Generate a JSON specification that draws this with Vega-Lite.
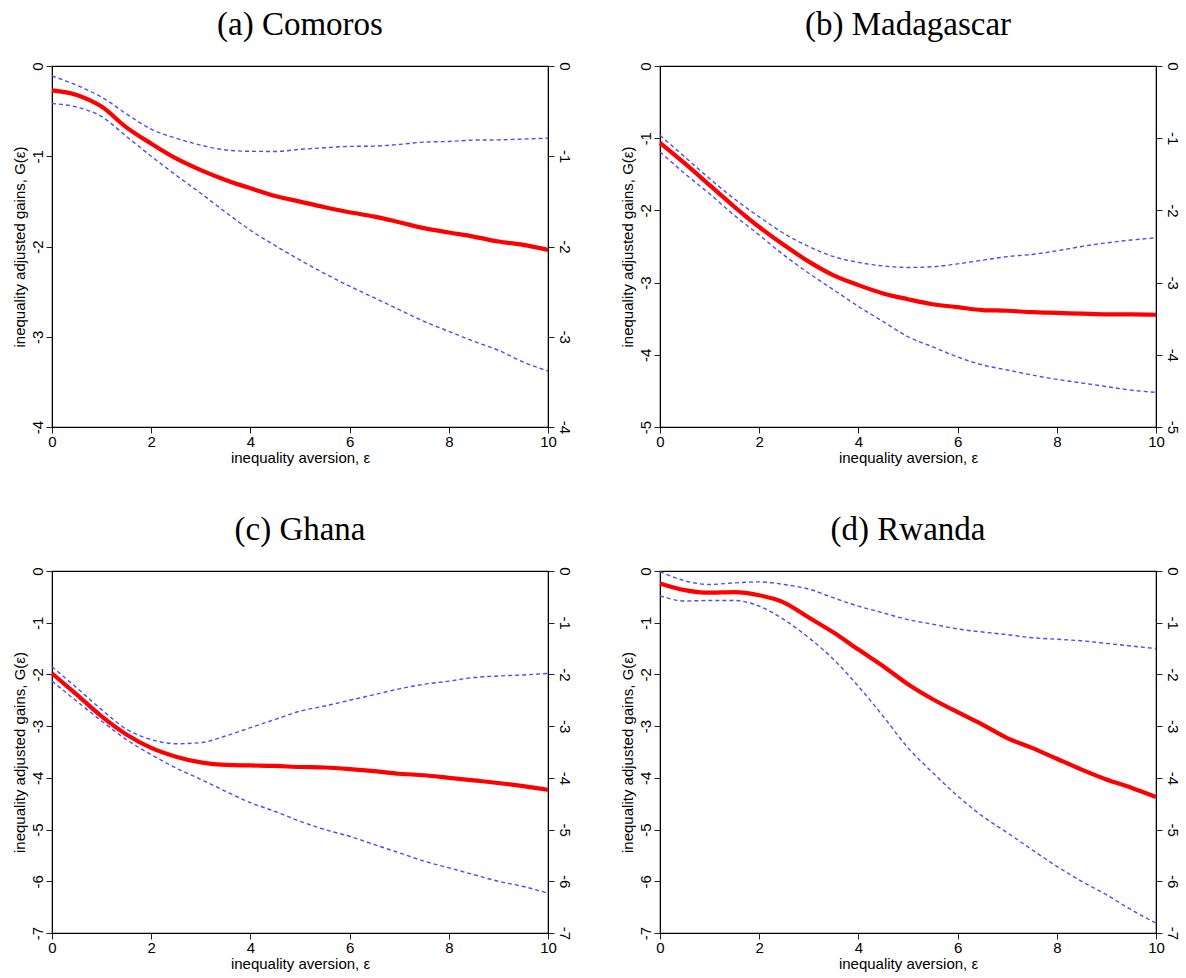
{
  "$schema": "https://vega.github.io/schema/vega-lite/v6.json",
  "padding": {"left": 11, "top": 8, "right": 5, "bottom": 0},
  "config": {
    "view": {"stroke": "black", "strokeWidth": 1.2},
    "axis": {"labelFont": "Liberation Sans", "titleFont": "Liberation Sans", "labelFontSize": 15, "titleFontSize": 15, "titleFontWeight": "normal", "labelColor": "black", "titleColor": "black", "domainColor": "black", "tickColor": "#222", "grid": false, "tickSize": 6, "labelExpr": "replace(datum.label, '\u2212', '-')"},
    "axisX": {"labelPadding": 1, "titlePadding": 1},
    "title": {"font": "Liberation Serif", "fontSize": 33, "fontWeight": "normal", "color": "black", "offset": 20},
    "line": {"interpolate": "monotone"}
  },
  "datasets": {
    "d": [
      {"p":"a","e":0,"est":-0.27,"lo":-0.416,"hi":-0.11},
      {"p":"a","e":0.5,"est":-0.32,"lo":-0.455,"hi":-0.214},
      {"p":"a","e":1,"est":-0.45,"lo":-0.56,"hi":-0.345},
      {"p":"a","e":1.5,"est":-0.68,"lo":-0.78,"hi":-0.53},
      {"p":"a","e":2,"est":-0.86,"lo":-1.0,"hi":-0.7},
      {"p":"a","e":2.5,"est":-1.024,"lo":-1.21,"hi":-0.8},
      {"p":"a","e":3,"est":-1.153,"lo":-1.41,"hi":-0.877},
      {"p":"a","e":3.5,"est":-1.263,"lo":-1.62,"hi":-0.93},
      {"p":"a","e":4,"est":-1.355,"lo":-1.82,"hi":-0.945},
      {"p":"a","e":4.5,"est":-1.44,"lo":-1.99,"hi":-0.947},
      {"p":"a","e":5,"est":-1.503,"lo":-2.15,"hi":-0.924},
      {"p":"a","e":5.5,"est":-1.565,"lo":-2.30,"hi":-0.906},
      {"p":"a","e":6,"est":-1.621,"lo":-2.44,"hi":-0.891},
      {"p":"a","e":6.5,"est":-1.669,"lo":-2.57,"hi":-0.888},
      {"p":"a","e":7,"est":-1.731,"lo":-2.70,"hi":-0.869},
      {"p":"a","e":7.5,"est":-1.797,"lo":-2.83,"hi":-0.843},
      {"p":"a","e":8,"est":-1.845,"lo":-2.94,"hi":-0.836},
      {"p":"a","e":8.5,"est":-1.89,"lo":-3.05,"hi":-0.821},
      {"p":"a","e":9,"est":-1.945,"lo":-3.15,"hi":-0.818},
      {"p":"a","e":9.5,"est":-1.982,"lo":-3.28,"hi":-0.81},
      {"p":"a","e":10,"est":-2.037,"lo":-3.38,"hi":-0.799},

      {"p":"b","e":0,"est":-1.065,"lo":-1.19,"hi":-0.96},
      {"p":"b","e":0.5,"est":-1.35,"lo":-1.49,"hi":-1.26},
      {"p":"b","e":1,"est":-1.65,"lo":-1.77,"hi":-1.56},
      {"p":"b","e":1.5,"est":-1.95,"lo":-2.07,"hi":-1.84},
      {"p":"b","e":2,"est":-2.23,"lo":-2.34,"hi":-2.09},
      {"p":"b","e":2.5,"est":-2.48,"lo":-2.62,"hi":-2.32},
      {"p":"b","e":3,"est":-2.71,"lo":-2.87,"hi":-2.5},
      {"p":"b","e":3.5,"est":-2.9,"lo":-3.1,"hi":-2.64},
      {"p":"b","e":4,"est":-3.035,"lo":-3.33,"hi":-2.72},
      {"p":"b","e":4.5,"est":-3.15,"lo":-3.54,"hi":-2.77},
      {"p":"b","e":5,"est":-3.23,"lo":-3.75,"hi":-2.79},
      {"p":"b","e":5.5,"est":-3.3,"lo":-3.89,"hi":-2.78},
      {"p":"b","e":6,"est":-3.34,"lo":-4.03,"hi":-2.74},
      {"p":"b","e":6.5,"est":-3.38,"lo":-4.14,"hi":-2.69},
      {"p":"b","e":7,"est":-3.39,"lo":-4.21,"hi":-2.64},
      {"p":"b","e":7.5,"est":-3.41,"lo":-4.28,"hi":-2.61},
      {"p":"b","e":8,"est":-3.42,"lo":-4.34,"hi":-2.56},
      {"p":"b","e":8.5,"est":-3.43,"lo":-4.39,"hi":-2.5},
      {"p":"b","e":9,"est":-3.44,"lo":-4.44,"hi":-2.45},
      {"p":"b","e":9.5,"est":-3.44,"lo":-4.49,"hi":-2.41},
      {"p":"b","e":10,"est":-3.445,"lo":-4.52,"hi":-2.38},

      {"p":"c","e":0,"est":-1.98,"lo":-2.13,"hi":-1.85},
      {"p":"c","e":0.5,"est":-2.39,"lo":-2.52,"hi":-2.26},
      {"p":"c","e":1,"est":-2.81,"lo":-2.9,"hi":-2.68},
      {"p":"c","e":1.5,"est":-3.16,"lo":-3.26,"hi":-3.06},
      {"p":"c","e":2,"est":-3.42,"lo":-3.55,"hi":-3.26},
      {"p":"c","e":2.5,"est":-3.59,"lo":-3.81,"hi":-3.34},
      {"p":"c","e":3,"est":-3.7,"lo":-4.03,"hi":-3.32},
      {"p":"c","e":3.5,"est":-3.75,"lo":-4.26,"hi":-3.19},
      {"p":"c","e":4,"est":-3.76,"lo":-4.48,"hi":-3.03},
      {"p":"c","e":4.5,"est":-3.77,"lo":-4.65,"hi":-2.87},
      {"p":"c","e":5,"est":-3.79,"lo":-4.84,"hi":-2.71},
      {"p":"c","e":5.5,"est":-3.8,"lo":-5.0,"hi":-2.61},
      {"p":"c","e":6,"est":-3.83,"lo":-5.13,"hi":-2.5},
      {"p":"c","e":6.5,"est":-3.87,"lo":-5.29,"hi":-2.39},
      {"p":"c","e":7,"est":-3.92,"lo":-5.45,"hi":-2.28},
      {"p":"c","e":7.5,"est":-3.95,"lo":-5.61,"hi":-2.19},
      {"p":"c","e":8,"est":-4.0,"lo":-5.74,"hi":-2.13},
      {"p":"c","e":8.5,"est":-4.05,"lo":-5.87,"hi":-2.06},
      {"p":"c","e":9,"est":-4.1,"lo":-6.0,"hi":-2.03},
      {"p":"c","e":9.5,"est":-4.16,"lo":-6.1,"hi":-2.01},
      {"p":"c","e":10,"est":-4.23,"lo":-6.23,"hi":-1.98},

      {"p":"d","e":0,"est":-0.24,"lo":-0.48,"hi":-0.01},
      {"p":"d","e":0.5,"est":-0.37,"lo":-0.58,"hi":-0.19},
      {"p":"d","e":1,"est":-0.42,"lo":-0.57,"hi":-0.26},
      {"p":"d","e":1.5,"est":-0.41,"lo":-0.57,"hi":-0.23},
      {"p":"d","e":2,"est":-0.47,"lo":-0.68,"hi":-0.21},
      {"p":"d","e":2.5,"est":-0.61,"lo":-0.94,"hi":-0.26},
      {"p":"d","e":3,"est":-0.9,"lo":-1.29,"hi":-0.35},
      {"p":"d","e":3.5,"est":-1.19,"lo":-1.71,"hi":-0.52},
      {"p":"d","e":4,"est":-1.52,"lo":-2.23,"hi":-0.68},
      {"p":"d","e":4.5,"est":-1.84,"lo":-2.81,"hi":-0.81},
      {"p":"d","e":5,"est":-2.19,"lo":-3.42,"hi":-0.94},
      {"p":"d","e":5.5,"est":-2.48,"lo":-3.9,"hi":-1.03},
      {"p":"d","e":6,"est":-2.73,"lo":-4.35,"hi":-1.12},
      {"p":"d","e":6.5,"est":-2.97,"lo":-4.74,"hi":-1.18},
      {"p":"d","e":7,"est":-3.23,"lo":-5.06,"hi":-1.23},
      {"p":"d","e":7.5,"est":-3.42,"lo":-5.39,"hi":-1.29},
      {"p":"d","e":8,"est":-3.63,"lo":-5.71,"hi":-1.32},
      {"p":"d","e":8.5,"est":-3.84,"lo":-6.0,"hi":-1.35},
      {"p":"d","e":9,"est":-4.03,"lo":-6.26,"hi":-1.4},
      {"p":"d","e":9.5,"est":-4.19,"lo":-6.55,"hi":-1.45},
      {"p":"d","e":10,"est":-4.37,"lo":-6.81,"hi":-1.5}
    ]
  },
  "data": {"name": "d"},
  "spacing": 47,
  "vconcat": [
    {"spacing": 47, "hconcat": [
      {
        "title": "(a) Comoros", "width": 496, "height": 361,
        "transform": [{"filter": "datum.p === 'a'"}],
        "resolve": {"scale": {"y": "independent"}},
        "layer": [
          {"transform": [{"fold": ["hi", "lo"], "as": ["k", "v"]}],
           "mark": {"type": "line", "color": "#4c4cff", "strokeWidth": 1.4, "strokeDash": [4, 3]},
           "encoding": {
             "x": {"field": "e", "type": "quantitative", "scale": {"domain": [0, 10]}, "axis": {"values": [0,2,4,6,8,10], "labelFlush": false, "title": "inequality aversion, ε"}},
             "y": {"field": "v", "type": "quantitative", "scale": {"domain": [-4, 0], "nice": false, "zero": false}, "axis": {"orient": "left", "values": [0,-1,-2,-3,-4], "labelAngle": 270, "labelAlign": "center", "labelBaseline": "bottom", "labelPadding": 1, "title": "inequality adjusted gains, G(ε)", "titlePadding": 3}},
             "detail": {"field": "k"}
           }},
          {"mark": {"type": "line", "color": "#ff0000", "strokeWidth": 4.2},
           "encoding": {
             "x": {"field": "e", "type": "quantitative"},
             "y": {"field": "est", "type": "quantitative", "scale": {"domain": [-4, 0], "nice": false, "zero": false}, "axis": {"orient": "right", "values": [0,-1,-2,-3,-4], "labelAngle": 90, "labelAlign": "center", "labelBaseline": "bottom", "labelPadding": 2, "title": null}}
           }}
        ]
      },
      {
        "title": "(b) Madagascar", "width": 496, "height": 361,
        "transform": [{"filter": "datum.p === 'b'"}],
        "resolve": {"scale": {"y": "independent"}},
        "layer": [
          {"transform": [{"fold": ["hi", "lo"], "as": ["k", "v"]}],
           "mark": {"type": "line", "color": "#4c4cff", "strokeWidth": 1.4, "strokeDash": [4, 3]},
           "encoding": {
             "x": {"field": "e", "type": "quantitative", "scale": {"domain": [0, 10]}, "axis": {"values": [0,2,4,6,8,10], "labelFlush": false, "title": "inequality aversion, ε"}},
             "y": {"field": "v", "type": "quantitative", "scale": {"domain": [-5, 0], "nice": false, "zero": false}, "axis": {"orient": "left", "values": [0,-1,-2,-3,-4,-5], "labelAngle": 270, "labelAlign": "center", "labelBaseline": "bottom", "labelPadding": 1, "title": "inequality adjusted gains, G(ε)", "titlePadding": 3}},
             "detail": {"field": "k"}
           }},
          {"mark": {"type": "line", "color": "#ff0000", "strokeWidth": 4.2},
           "encoding": {
             "x": {"field": "e", "type": "quantitative"},
             "y": {"field": "est", "type": "quantitative", "scale": {"domain": [-5, 0], "nice": false, "zero": false}, "axis": {"orient": "right", "values": [0,-1,-2,-3,-4,-5], "labelAngle": 90, "labelAlign": "center", "labelBaseline": "bottom", "labelPadding": 2, "title": null}}
           }}
        ]
      }
    ]},
    {"spacing": 47, "hconcat": [
      {
        "title": "(c) Ghana", "width": 496, "height": 362,
        "transform": [{"filter": "datum.p === 'c'"}],
        "resolve": {"scale": {"y": "independent"}},
        "layer": [
          {"transform": [{"fold": ["hi", "lo"], "as": ["k", "v"]}],
           "mark": {"type": "line", "color": "#4c4cff", "strokeWidth": 1.4, "strokeDash": [4, 3]},
           "encoding": {
             "x": {"field": "e", "type": "quantitative", "scale": {"domain": [0, 10]}, "axis": {"values": [0,2,4,6,8,10], "labelFlush": false, "title": "inequality aversion, ε"}},
             "y": {"field": "v", "type": "quantitative", "scale": {"domain": [-7, 0], "nice": false, "zero": false}, "axis": {"orient": "left", "values": [0,-1,-2,-3,-4,-5,-6,-7], "labelAngle": 270, "labelAlign": "center", "labelBaseline": "bottom", "labelPadding": 1, "title": "inequality adjusted gains, G(ε)", "titlePadding": 3}},
             "detail": {"field": "k"}
           }},
          {"mark": {"type": "line", "color": "#ff0000", "strokeWidth": 4.2},
           "encoding": {
             "x": {"field": "e", "type": "quantitative"},
             "y": {"field": "est", "type": "quantitative", "scale": {"domain": [-7, 0], "nice": false, "zero": false}, "axis": {"orient": "right", "values": [0,-1,-2,-3,-4,-5,-6,-7], "labelAngle": 90, "labelAlign": "center", "labelBaseline": "bottom", "labelPadding": 2, "title": null}}
           }}
        ]
      },
      {
        "title": "(d) Rwanda", "width": 496, "height": 362,
        "transform": [{"filter": "datum.p === 'd'"}],
        "resolve": {"scale": {"y": "independent"}},
        "layer": [
          {"transform": [{"fold": ["hi", "lo"], "as": ["k", "v"]}],
           "mark": {"type": "line", "color": "#4c4cff", "strokeWidth": 1.4, "strokeDash": [4, 3]},
           "encoding": {
             "x": {"field": "e", "type": "quantitative", "scale": {"domain": [0, 10]}, "axis": {"values": [0,2,4,6,8,10], "labelFlush": false, "title": "inequality aversion, ε"}},
             "y": {"field": "v", "type": "quantitative", "scale": {"domain": [-7, 0], "nice": false, "zero": false}, "axis": {"orient": "left", "values": [0,-1,-2,-3,-4,-5,-6,-7], "labelAngle": 270, "labelAlign": "center", "labelBaseline": "bottom", "labelPadding": 1, "title": "inequality adjusted gains, G(ε)", "titlePadding": 3}},
             "detail": {"field": "k"}
           }},
          {"mark": {"type": "line", "color": "#ff0000", "strokeWidth": 4.2},
           "encoding": {
             "x": {"field": "e", "type": "quantitative"},
             "y": {"field": "est", "type": "quantitative", "scale": {"domain": [-7, 0], "nice": false, "zero": false}, "axis": {"orient": "right", "values": [0,-1,-2,-3,-4,-5,-6,-7], "labelAngle": 90, "labelAlign": "center", "labelBaseline": "bottom", "labelPadding": 2, "title": null}}
           }}
        ]
      }
    ]}
  ]
}
